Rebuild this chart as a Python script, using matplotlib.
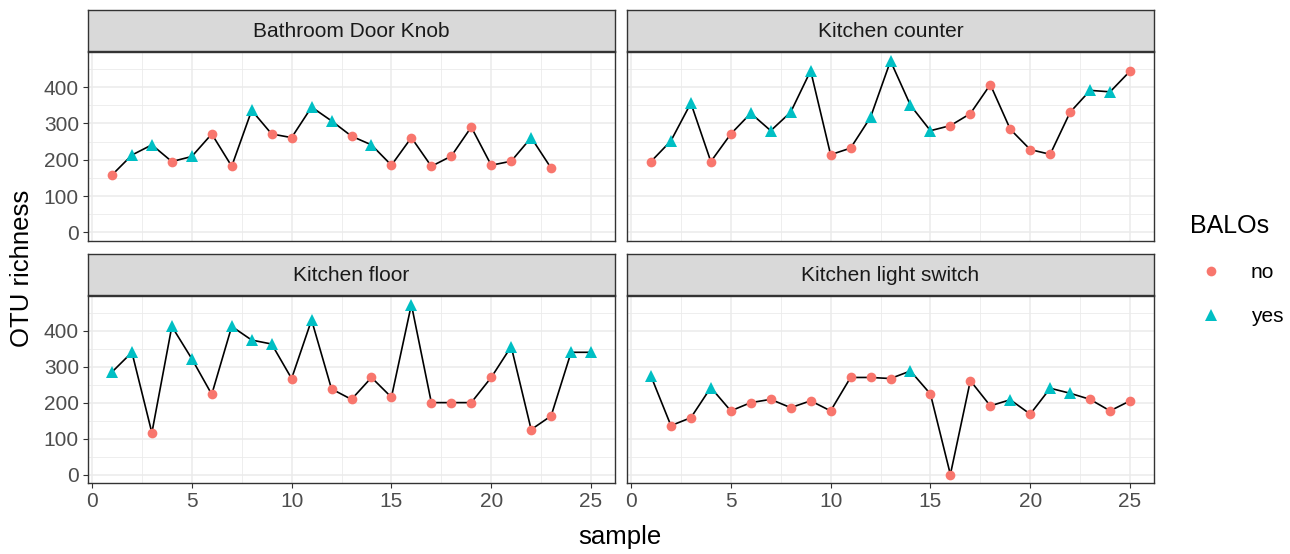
import numpy as np
import matplotlib
matplotlib.use("Agg")
import matplotlib.pyplot as plt
from matplotlib.lines import Line2D

plt.rcParams['font.family'] = ['Liberation Sans', 'DejaVu Sans']

# data
sample = np.arange(1, 26)
panels = ['Bathroom Door Knob', 'Kitchen counter', 'Kitchen floor', 'Kitchen light switch']

bathroom = [158, 213, 241, 195, 209, 271, 182, 336, 271, 261, 345, 307, 265, 241, 185,
            261, 182, 210, 290, 185, 196, 261, 177, np.nan, np.nan]
bathroom_balo = ['no', 'yes', 'yes', 'no', 'yes', 'no', 'no', 'yes', 'no', 'no', 'yes', 'yes', 'no',
                 'yes', 'no', 'no', 'no', 'no', 'no', 'no', 'no', 'yes', 'no', None, None]

counter = [195, 252, 356, 195, 271, 328, 280, 331, 445, 214, 232, 317, 472, 350, 280,
           294, 327, 407, 284, 228, 215, 331, 391, 387, 444]
counter_balo = ['no', 'yes', 'yes', 'no', 'no', 'yes', 'yes', 'yes', 'yes', 'no', 'no', 'yes', 'yes',
                'yes', 'yes', 'no', 'no', 'no', 'no', 'no', 'no', 'no', 'yes', 'yes', 'no']

floor = [285, 340, 116, 412, 322, 223, 412, 374, 363, 267, 430, 238, 209, 270, 215,
         473, 200, 200, 200, 270, 356, 125, 163, 340, 340]
floor_balo = ['yes', 'yes', 'no', 'yes', 'yes', 'no', 'yes', 'yes', 'yes', 'no', 'yes', 'no', 'no',
              'no', 'no', 'yes', 'no', 'no', 'no', 'no', 'yes', 'no', 'no', 'yes', 'yes']

switch = [274, 136, 158, 242, 177, 200, 209, 186, 205, 177, 270, 270, 267, 288, 224,
          0, 261, 191, 208, 168, 240, 226, 209, 177, 205]
switch_balo = ['yes', 'no', 'no', 'yes', 'no', 'no', 'no', 'no', 'no', 'no', 'no', 'no', 'no',
               'yes', 'no', 'no', 'no', 'no', 'yes', 'no', 'yes', 'yes', 'no', 'no', 'no']

values = [bathroom, counter, floor, switch]
balos = [bathroom_balo, counter_balo, floor_balo, switch_balo]

colors = {'no': '#F8766D', 'yes': '#00BFC4'}
markers = {'no': 'o', 'yes': '^'}
msize = {'no': 7, 'yes': 8.5}

W, H = 1290, 554
fig = plt.figure(figsize=(W / 100, H / 100), dpi=100)

# panel boxes in pixels: (left, top, right, bottom)
boxes = [(88, 52, 615, 241), (627, 52, 1154, 241),
         (88, 296, 615, 483), (627, 296, 1154, 483)]
strip_h = 41

ymax = 473
pad = 0.05 * ymax

for i, (name, vals, bal) in enumerate(zip(panels, values, balos)):
    l, t, r, b = boxes[i]
    ax = fig.add_axes([l / W, 1 - b / H, (r - l) / W, (b - t) / H])
    ax.set_xlim(1 - 0.05 * 24, 25 + 0.05 * 24)
    ax.set_ylim(-pad, ymax + pad)
    ax.set_xticks([0, 5, 10, 15, 20, 25])
    ax.set_xticks([2.5, 7.5, 12.5, 17.5, 22.5], minor=True)
    ax.set_yticks([0, 100, 200, 300, 400])
    ax.set_yticks([50, 150, 250, 350, 450], minor=True)
    ax.grid(True, which='major', color='#EBEBEB', lw=1.1)
    ax.grid(True, which='minor', color='#EBEBEB', lw=0.6)
    ax.set_axisbelow(True)
    for sp in ax.spines.values():
        sp.set_color('#333333')
        sp.set_linewidth(1.0)
    ax.tick_params(which='minor', length=0)
    ax.tick_params(which='major', length=3.5, width=0.8, color='#333333',
                   labelcolor='#4D4D4D', labelsize=15, pad=3)
    if i % 2 == 1:
        ax.tick_params(axis='y', length=0, labelleft=False)
    if i < 2:
        ax.tick_params(axis='x', length=0, labelbottom=False)

    v = np.array(vals, dtype=float)
    ax.plot(sample, v, color='black', lw=1.2, zorder=2)
    for k in ['no', 'yes']:
        idx = [j for j, s in enumerate(bal) if s == k]
        ax.plot(sample[idx], v[idx], ls='none', marker=markers[k], ms=msize[k],
                color=colors[k], markeredgewidth=0, zorder=3)

    # strip
    sax = fig.add_axes([l / W, 1 - (t - 1) / H, (r - l) / W, strip_h / H])
    sax.set_facecolor('#D9D9D9')
    sax.set_xticks([])
    sax.set_yticks([])
    for sp in sax.spines.values():
        sp.set_color('#333333')
        sp.set_linewidth(1.0)
    sax.text(0.5, 0.47, name, ha='center', va='center', fontsize=15,
             color='#1A1A1A', transform=sax.transAxes)

fig.text(620 / W, 1 - 537 / H, 'sample', ha='center', va='center', fontsize=18.5)
fig.text(22 / W, 1 - 268 / H, 'OTU richness', ha='center', va='center',
         rotation=90, fontsize=18.5)

handles = [Line2D([], [], ls='none', marker=markers[k], ms=msize[k], color=colors[k],
                  markeredgewidth=0) for k in ['no', 'yes']]
leg = fig.legend(handles, ['no', 'yes'], title='BALOs', loc='center left',
                 bbox_to_anchor=(1182 / W, 1 - 270 / H), frameon=False,
                 fontsize=15, title_fontsize=18, labelspacing=1.2,
                 handletextpad=0.9, borderaxespad=0)
leg._legend_box.align = 'left'

fig.savefig('out.png', dpi=100)
